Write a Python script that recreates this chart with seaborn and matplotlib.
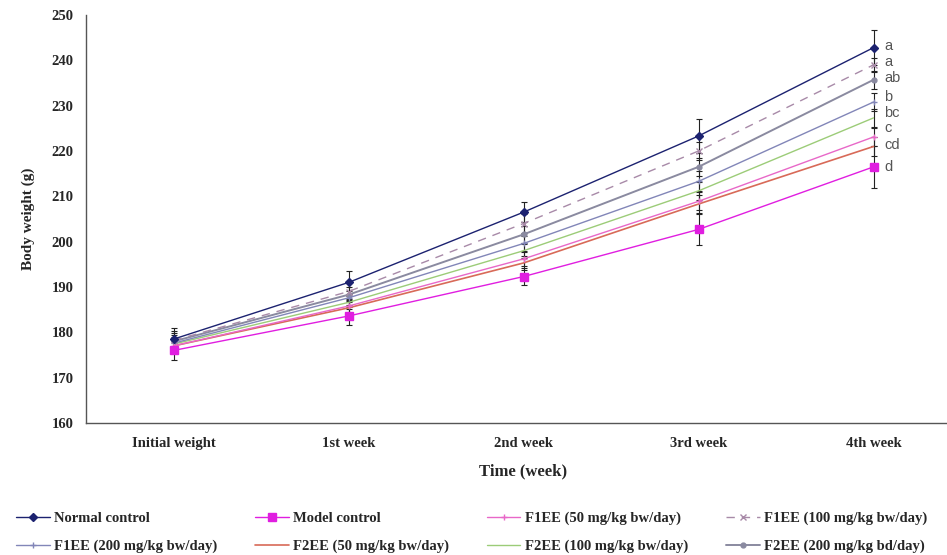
import matplotlib
matplotlib.use("Agg")
import matplotlib.pyplot as plt
import seaborn as sns
import pandas as pd
import numpy as np

categories = ["Initial weight", "1st week", "2nd week", "3rd week", "4th week"]

series_names = [
    "Normal control",
    "Model control",
    "F1EE (50 mg/kg bw/day)",
    "F1EE (100 mg/kg bw/day)",
    "F1EE (200 mg/kg bw/day)",
    "F2EE (50 mg/kg bw/day)",
    "F2EE (100 mg/kg bw/day)",
    "F2EE (200 mg/kg bd/day)",
]

normal_control = [178.5, 191.0, 206.5, 223.3, 242.8]
model_control = [176.0, 183.6, 192.3, 202.7, 216.5]
f1ee_50 = [177.0, 185.8, 196.2, 208.9, 223.1]
f1ee_100 = [178.2, 189.0, 204.0, 220.0, 239.0]
f1ee_200 = [177.6, 187.6, 199.6, 213.3, 230.8]
f2ee_50 = [177.0, 185.4, 195.3, 208.3, 221.0]
f2ee_100 = [177.4, 186.6, 198.0, 211.2, 227.3]
f2ee_200 = [178.0, 188.3, 201.6, 216.5, 235.7]

normal_err = [2.5, 2.6, 2.2, 3.8, 3.8]
model_err = [2.0, 2.0, 1.8, 3.5, 4.6]
f1ee_50_err = [1.6, 1.5, 1.5, 2.0, 2.0]
f1ee_100_err = [2.0, 1.8, 2.0, 2.0, 1.5]
f1ee_200_err = [1.8, 1.6, 1.6, 2.2, 2.0]
f2ee_50_err = [1.5, 1.5, 1.5, 2.0, 2.0]
f2ee_100_err = [1.5, 1.5, 1.5, 2.0, 2.0]
f2ee_200_err = [1.8, 1.6, 1.8, 2.0, 2.0]

sig_letters = ["a", "a", "ab", "b", "bc", "c", "cd", "d"]
sig_y = [243.2, 239.6, 236.0, 232.0, 228.3, 225.0, 221.3, 216.4]

values = [normal_control, model_control, f1ee_50, f1ee_100, f1ee_200,
          f2ee_50, f2ee_100, f2ee_200]
errors = [normal_err, model_err, f1ee_50_err, f1ee_100_err, f1ee_200_err,
          f2ee_50_err, f2ee_100_err, f2ee_200_err]

colors = ["#1c2270", "#e01ee0", "#e868c8", "#a88aa8", "#8286b8",
          "#d86a58", "#9ccc78", "#8a8aa0"]
markers = ["D", "s", "+", "x", "+", "", "", "o"]
msizes = [4, 5.5, 5, 4, 5, 0, 0, 3.5]
linestyles = ["-", "-", "-", (0, (6, 5)), "-", "-", "-", "-"]
lwidths = [1.0, 1.0, 1.0, 1.0, 1.0, 1.2, 1.0, 1.4]

rows = []
for name, vals in zip(series_names, values):
    for i, v in enumerate(vals):
        rows.append({"series": name, "x": i, "weight": v})
df = pd.DataFrame(rows)

sns.set_style("white")
plt.rcParams["font.family"] = ["Liberation Serif", "DejaVu Serif"]

fig = plt.figure(figsize=(9.47, 5.55), dpi=100)
ax = fig.add_axes([86 / 947, (555 - 423) / 555, 875 / 947, 408 / 555])

order = list(range(len(series_names)))[::-1]
hmap = {}
for k in order:
    name = series_names[k]
    sub = df[df["series"] == name]
    ax.errorbar(sub["x"], sub["weight"], yerr=errors[k], fmt="none",
                ecolor="#222222", elinewidth=0.8, capsize=2.5, capthick=0.8,
                zorder=2)
    sns.lineplot(data=sub, x="x", y="weight", ax=ax, color=colors[k],
                 linewidth=lwidths[k], linestyle=linestyles[k],
                 marker=markers[k] if markers[k] else None,
                 markersize=msizes[k], markeredgecolor=colors[k],
                 markeredgewidth=1.0, legend=False, zorder=3)
    hmap[k] = ax.lines[-1]

ax.set_xlim(-0.5, 4.5)
ax.set_ylim(160, 250)
ax.set_yticks(np.arange(160, 251, 10))
ax.set_xticks(range(len(categories)))
ax.set_xticklabels(categories, fontsize=10.5, fontweight="bold")
ax.set_xticks(np.arange(-0.5, 4.6, 1.0), minor=True)
ax.tick_params(axis="x", which="major", length=0, pad=10)
ax.tick_params(axis="x", which="minor", length=4, width=0.8, color="#555555",
               direction="out")
ax.tick_params(axis="y", which="major", length=5, width=0.8, color="#555555",
               direction="out", pad=4, labelsize=10.5)
for lab in ax.get_yticklabels():
    lab.set_fontweight("bold")

for side in ["top", "right"]:
    ax.spines[side].set_visible(False)
for side in ["left", "bottom"]:
    ax.spines[side].set_color("#555555")
    ax.spines[side].set_linewidth(1.0)

ax.set_xlabel("Time (week)", fontsize=12, fontweight="bold", labelpad=10)
ax.set_ylabel("Body weight (g)", fontsize=11, fontweight="bold", labelpad=12)

for letter, yv in zip(sig_letters, sig_y):
    ax.text(4.06, yv, letter, fontsize=10.5, color="#555555",
            family=["Liberation Sans", "DejaVu Sans"], va="center", ha="left")

legend_order = [0, 4, 1, 5, 2, 6, 3, 7]
leg_handles = [hmap[k] for k in legend_order]
leg_labels = [series_names[k] for k in legend_order]
fig.legend(leg_handles, leg_labels, loc="lower left",
           bbox_to_anchor=(0.003, -0.02), ncol=4, frameon=False,
           prop={"family": ["Liberation Serif"], "weight": "bold", "size": 10.5},
           handlelength=2.3, handletextpad=0.3, columnspacing=2.6,
           labelspacing=1.0)

fig.savefig("out.png", dpi=100)
